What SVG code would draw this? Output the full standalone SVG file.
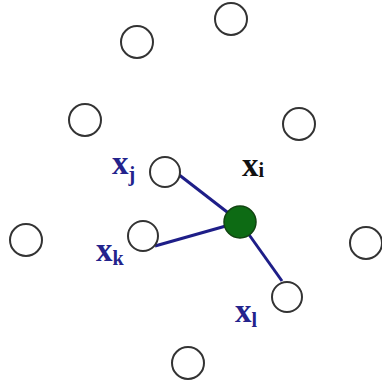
<svg xmlns="http://www.w3.org/2000/svg" width="382" height="390" viewBox="0 0 382 390">
<style>
.n{fill:#fff;stroke:#333;stroke-width:2}
.c{stroke:#1e1e88;stroke-width:3;fill:none}
.t{font-family:"Liberation Serif",serif;font-weight:bold;font-size:33px;fill:#23238c}
.s{font-size:20px}
</style>
<rect width="382" height="390" fill="#fff"/>
<g id="connectors">
<line class="c" x1="178" y1="174" x2="240" y2="222"/>
<line class="c" x1="155" y1="246" x2="240" y2="222"/>
<line class="c" x1="240" y1="222" x2="282" y2="281"/>
</g>
<g id="n1"><circle class="n" cx="231" cy="19" r="16"/></g>
<g id="n2"><circle class="n" cx="137" cy="42" r="16"/></g>
<g id="n3"><circle class="n" cx="85" cy="120" r="16"/></g>
<g id="n4"><circle class="n" cx="299" cy="124" r="16"/></g>
<g id="xj"><circle class="n" cx="165" cy="172" r="15"/><text class="t" x="112" y="174">x<tspan class="s" dy="7">j</tspan></text></g>
<g id="xi"><circle cx="240" cy="222" r="16" fill="#0d6b14" stroke="#114411" stroke-width="1.5"/><text class="t" x="242" y="176" style="fill:#111">x<tspan class="s" dy="1">i</tspan></text></g>
<g id="xk"><circle class="n" cx="143" cy="236" r="15"/><text class="t" x="96" y="261">x<tspan class="s" dy="4">k</tspan></text></g>
<g id="n5"><circle class="n" cx="26" cy="240" r="16"/></g>
<g id="n6"><circle class="n" cx="366" cy="243" r="16"/></g>
<g id="xl"><circle class="n" cx="287" cy="297" r="15"/><text class="t" x="235" y="322">x<tspan class="s" dy="5">l</tspan></text></g>
<g id="n7"><circle class="n" cx="188" cy="363" r="16"/></g>
</svg>
